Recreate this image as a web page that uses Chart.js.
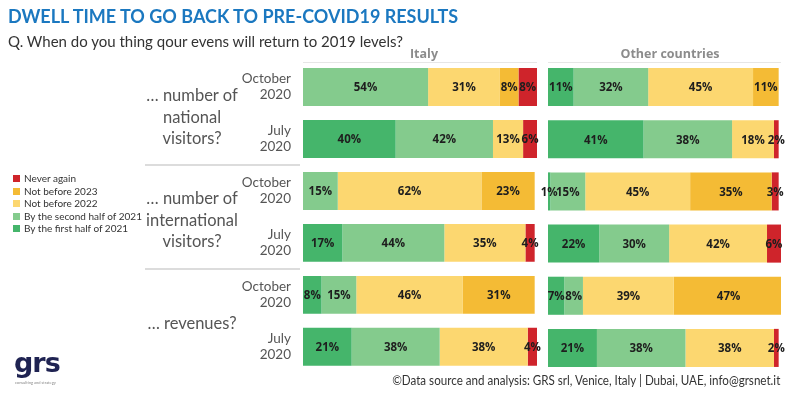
<!DOCTYPE html>
<html>
<head>
<meta charset="utf-8">
<script src="https://cdn.jsdelivr.net/npm/chart.js@4/dist/chart.umd.min.js"></script>
<style>
  html, body { margin: 0; padding: 0; background: #fff; }
  #wrap { position: relative; width: 790px; height: 393px; overflow: hidden; font-family: Lato, "Open Sans", sans-serif; }
  canvas { position: absolute; left: 0; top: 0; }
  .abs { position: absolute; white-space: nowrap; }
  #title { left: 8px; top: 5px; font-size: 18px; font-weight: 700; color: #1b78c0; letter-spacing: 0px; }
  #sub { left: 8px; top: 32px; font-size: 15px; color: #333; }
  .hdr { top: 45px; font-size: 12.5px; font-weight: 700; color: #8c8c8c; font-family: "Open Sans", sans-serif; transform: translateX(-50%); }
  .hline { position: absolute; height: 1px; background: #e6e6e6; }
  .sep { position: absolute; height: 2px; background: #dcdcdc; left: 145px; width: 155px; }
  .rowlab { position: absolute; width: 110px; left: 137px; text-align: center; font-size: 16.5px; line-height: 21.5px; color: #555; }
  #legend { left: 13px; top: 172px; font-size: 10px; color: #333; line-height: 12.6px; }
  #legend .sw { display: inline-block; width: 7px; height: 7px; margin-right: 4px; vertical-align: 0px; }
  #foot { right: 10px; top: 372px; font-size: 13.5px; color: #333; transform: scaleX(0.86); transform-origin: right center; }
  #logo { left: 14px; top: 347px; font-family: "DejaVu Sans", sans-serif; font-weight: 900; font-size: 27px; color: #1f2352; letter-spacing: -1px; }
  #logosub { left: 15px; top: 380px; font-size: 4px; color: #888; }
</style>
</head>
<body>
<div id="wrap">
  <canvas id="cItaly" width="790" height="393"></canvas>
  <canvas id="cOther" width="790" height="393"></canvas>
  <div class="abs" id="title">DWELL TIME TO GO BACK TO PRE-COVID19 RESULTS</div>
  <div class="abs" id="sub">Q. When do you thing qour evens will return to 2019 levels?</div>
  <div class="abs hdr" id="hItaly" style="left:424px"></div>
  <div class="abs hdr" id="hOther" style="left:670px"></div>
  <div class="hline" style="left:303px; width:234px; top:62px"></div>
  <div class="hline" style="left:548px; width:233px; top:62px"></div>
  <div class="sep" style="top:164px"></div>
  <div class="sep" style="top:268px"></div>
  <div id="rowlabs"></div>
  <div class="abs" id="legend"></div>
  <div class="abs" id="logo">grs</div>
  <div class="abs" id="logosub">consulting and strategy</div>
  <div class="abs" id="foot">©Data source and analysis: GRS srl, Venice, Italy | Dubai, UAE, info@grsnet.it</div>
</div>
<script>
// ---------- DATA ----------
const panels = ["Italy", "Other countries"];
const questions = ["… number of\nnational\nvisitors?", "… number of\ninternational\nvisitors?", "… revenues?"];
const periods = [["October", "2020"], ["July", "2020"], ["October", "2020"], ["July", "2020"], ["October", "2020"], ["July", "2020"]];
const seriesNames = ["By the first half of 2021", "By the second half of 2021", "Not before 2022", "Not before 2023", "Never again"];
const seriesColors = ["#45b56b", "#84cb8d", "#fcd770", "#f4bb35", "#cf242b"];

// rows: national Oct, national Jul, international Oct, international Jul, revenues Oct, revenues Jul
const italyFirstHalf2021  = [0, 40, 0, 17, 8, 21];
const italySecondHalf2021 = [54, 42, 15, 44, 15, 38];
const italyNotBefore2022  = [31, 13, 62, 35, 46, 38];
const italyNotBefore2023  = [8, 0, 23, 0, 31, 0];
const italyNeverAgain     = [8, 6, 0, 4, 0, 4];

const otherFirstHalf2021  = [11, 41, 1, 22, 7, 21];
const otherSecondHalf2021 = [32, 38, 15, 30, 8, 38];
const otherNotBefore2022  = [45, 18, 45, 42, 39, 38];
const otherNotBefore2023  = [11, 0, 35, 0, 47, 0];
const otherNeverAgain     = [0, 2, 3, 6, 0, 2];

const italyMax = 101;
const otherMax = 100;

// ---------- TEXT ----------
document.getElementById('hItaly').textContent = panels[0];
document.getElementById('hOther').textContent = panels[1];
const rowTops = [85, 188, 313];
const rl = document.getElementById('rowlabs');
questions.forEach((q, i) => {
  const d = document.createElement('div');
  d.className = 'rowlab';
  d.style.top = rowTops[i] + 'px';
  d.innerHTML = q.split('\n').join('<br>');
  rl.appendChild(d);
});
const lg = document.getElementById('legend');
for (let i = seriesNames.length - 1; i >= 0; i--) {
  const r = document.createElement('div');
  r.innerHTML = '<span class="sw" style="background:' + seriesColors[i] + '"></span>' + seriesNames[i];
  lg.appendChild(r);
}

// ---------- CHARTS ----------
const valueLabels = {
  id: 'valueLabels',
  afterDatasetsDraw(chart) {
    const ctx = chart.ctx;
    ctx.save();
    ctx.font = '700 11.5px "Open Sans", sans-serif';
    ctx.fillStyle = '#1e1e1e';
    ctx.textAlign = 'center';
    ctx.textBaseline = 'middle';
    chart.data.datasets.forEach((ds, di) => {
      const meta = chart.getDatasetMeta(di);
      meta.data.forEach((el, i) => {
        const v = ds.data[i];
        if (!v) return;
        ctx.fillText(v + '%', (el.x + el.base) / 2, el.y + 1);
      });
    });
    ctx.restore();
  }
};

function makeDatasets(arrs) {
  return arrs.map((a, i) => ({
    label: seriesNames[i],
    data: a,
    backgroundColor: seriesColors[i],
    borderWidth: 0,
    categoryPercentage: 1,
    barPercentage: 0.73
  }));
}

function makeChart(id, arrs, max, showY, padLeft, padRight) {
  const yScale = {
    stacked: true,
    display: showY,
    grid: { display: false },
    border: { display: false },
    ticks: { color: '#555', font: { family: 'Lato', size: 13.5 }, padding: 4 }
  };
  if (showY) yScale.afterFit = (s) => { s.width = 63; };
  return new Chart(document.getElementById(id), {
    type: 'bar',
    data: { labels: periods, datasets: makeDatasets(arrs) },
    options: {
      indexAxis: 'y',
      responsive: false,
      devicePixelRatio: 1,
      animation: false,
      layout: { padding: { left: padLeft, right: padRight, top: 61, bottom: 19 } },
      plugins: { legend: { display: false }, tooltip: { enabled: false } },
      scales: {
        x: { stacked: true, min: 0, max: max, display: false },
        y: yScale
      }
    },
    plugins: [valueLabels]
  });
}

makeChart('cItaly', [italyFirstHalf2021, italySecondHalf2021, italyNotBefore2022, italyNotBefore2023, italyNeverAgain], italyMax, true, 240, 253);
makeChart('cOther', [otherFirstHalf2021, otherSecondHalf2021, otherNotBefore2022, otherNotBefore2023, otherNeverAgain], otherMax, false, 548, 9);
</script>
</body>
</html>
